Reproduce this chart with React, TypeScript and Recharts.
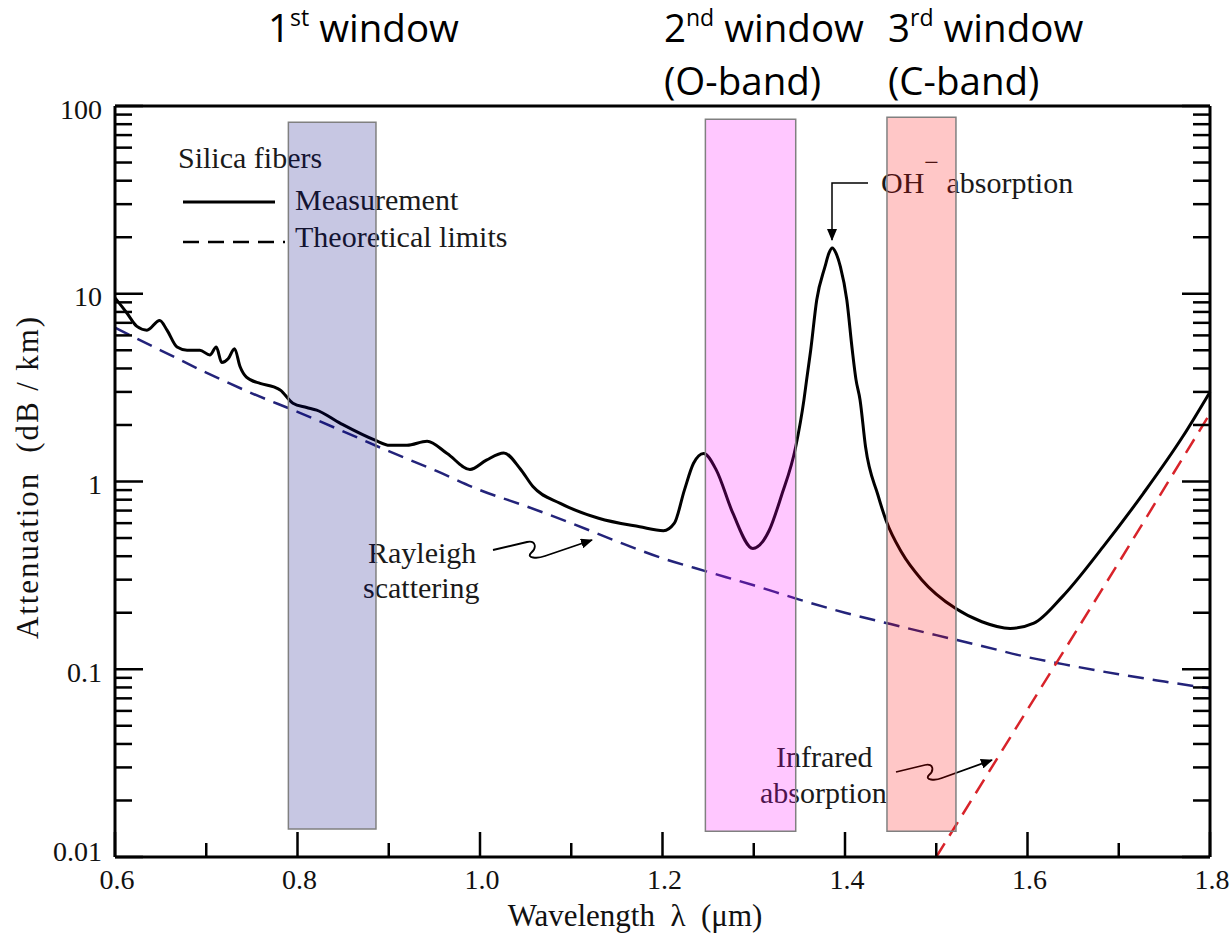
import React from 'react';
import { LineChart, Line, XAxis, YAxis, ReferenceArea } from 'recharts';

const W = 1232;
const H = 938;
// the axes take 1px each, so the plot area is 115..1210 x 106..857
const MARGIN = { top: 105, right: 21, bottom: 80, left: 114 };

const serif = '"Liberation Serif", "Times New Roman", serif';
const sans = '"Open Sans", "Noto Sans", sans-serif';

// measured attenuation of silica fibre: wavelength (um) / dB per km
const measWl = [
  0.6, 0.613, 0.624, 0.635, 0.649, 0.657, 0.668, 0.679, 0.693, 0.704, 0.711, 0.717,
  0.724, 0.731, 0.737, 0.744, 0.759, 0.774, 0.781, 0.795, 0.81, 0.821, 0.847, 0.885,
  0.901, 0.92, 0.942, 0.964, 0.989, 1.007, 1.026, 1.044, 1.058, 1.088, 1.13, 1.175,
  1.201, 1.213, 1.224, 1.234, 1.245, 1.259, 1.277, 1.299, 1.317, 1.33, 1.346, 1.355,
  1.358, 1.3624, 1.369, 1.378, 1.3825, 1.386, 1.39, 1.395, 1.402, 1.408, 1.412, 1.4165,
  1.4225, 1.436, 1.445, 1.462, 1.484, 1.521, 1.55, 1.581, 1.607, 1.638, 1.683, 1.727,
  1.77, 1.8,
];
const measDb = [
  9.5, 7.9, 6.7, 6.4, 7.2, 6.4, 5.2, 5.0, 5.0, 4.72, 5.2, 4.3,
  4.5, 5.1, 4.1, 3.6, 3.33, 3.19, 3.07, 2.61, 2.48, 2.4, 2.04, 1.66,
  1.56, 1.56, 1.64, 1.41, 1.16, 1.3, 1.42, 1.17, 0.94, 0.765, 0.637, 0.574,
  0.547, 0.6, 0.9, 1.25, 1.41, 1.15, 0.68, 0.44, 0.55, 0.83, 1.53, 2.72,
  3.5, 5.0, 9.27, 13.9, 16.5, 17.5, 16.5, 13.9, 9.27, 5.0, 3.5, 2.72,
  1.53, 0.85, 0.62, 0.42, 0.3, 0.211, 0.179, 0.165, 0.176, 0.243, 0.45, 0.865,
  1.73, 3.0,
];

// Rayleigh scattering limit
const rayWl = [
  0.6, 0.65, 0.7, 0.75, 0.8, 0.85, 0.9, 0.95, 1.0, 1.05, 1.1, 1.15, 1.2,
  1.25, 1.3, 1.35, 1.4, 1.45, 1.5, 1.55, 1.6, 1.65, 1.7, 1.75, 1.8,
];
const rayDb = [
  6.6, 5.0, 3.8, 2.95, 2.35, 1.85, 1.45, 1.15, 0.9, 0.74, 0.6, 0.48, 0.39,
  0.33, 0.28, 0.235, 0.2, 0.174, 0.152, 0.133, 0.116, 0.104, 0.094, 0.086, 0.079,
];

// infrared absorption limit
const irWl = [1.5, 1.6, 1.7, 1.8];
const irDb = [0.01, 0.061, 0.37, 2.3];

// transmission windows (um) and their extent on the attenuation axis
const winFrom = [0.79, 1.247, 1.446];
const winTo = [0.886, 1.346, 1.5216];
const winLow = [0.0141, 0.0137, 0.0137];
const winHigh = [82, 85, 87];
const winColors = ['#000080', '#ff00ff', '#ff0000'];

const xMajor = [0.6, 0.8, 1.0, 1.2, 1.4, 1.6, 1.8];
const xMinor = [0.7, 0.9, 1.1, 1.3, 1.5, 1.7];
const yMajor = [0.01, 0.1, 1, 10, 100];
const yMinor = [
  0.02, 0.03, 0.04, 0.05, 0.06, 0.07, 0.08, 0.09,
  0.2, 0.3, 0.4, 0.5, 0.6, 0.7, 0.8, 0.9,
  2, 3, 4, 5, 6, 7, 8, 9,
  20, 30, 40, 50, 60, 70, 80, 90,
];

const measData = measWl.map((x, i) => ({ x, y: measDb[i] }));
const rayData = rayWl.map((x, i) => ({ x, y: rayDb[i] }));
const irData = irWl.map((x, i) => ({ x, y: irDb[i] }));

const xTicks = [...xMajor, ...xMinor].sort((a, b) => a - b);
const yTicks = [...yMajor, ...yMinor].sort((a, b) => a - b);

const isMajorX = (v: number) => xMajor.some((m) => Math.abs(m - v) < 1e-9);
const isMajorY = (v: number) => yMajor.some((m) => Math.abs(m - v) < 1e-12);

const BottomTick = (props: any) => {
  const { x, y, payload } = props;
  const major = isMajorX(payload.value);
  return (
    <g>
      <line x1={x} y1={y} x2={x} y2={y - (major ? 25 : 14)} stroke="#000" strokeWidth={2.5} />
      {major && (
        <text x={x + 2} y={y + 32} textAnchor="middle" fontFamily={serif} fontSize={28} fill="#111">
          {payload.value.toFixed(1)}
        </text>
      )}
    </g>
  );
};

const TopTick = (props: any) => {
  const { x, y } = props;
  return <line x1={x} y1={y} x2={x} y2={y + 25} stroke="#000" strokeWidth={2.5} />;
};

const LeftTick = (props: any) => {
  const { x, y, payload } = props;
  const major = isMajorY(payload.value);
  return (
    <g>
      <line x1={x} y1={y} x2={x + (major ? 28 : 17)} y2={y} stroke="#000" strokeWidth={2.5} />
      {major && (
        <text
          x={x - 13}
          y={y + (payload.value === 0.01 ? -6 : 3)}
          textAnchor="end"
          dominantBaseline="central"
          fontFamily={serif}
          fontSize={28}
          fill="#111"
        >
          {String(payload.value)}
        </text>
      )}
    </g>
  );
};

const RightTick = (props: any) => {
  const { x, y, payload } = props;
  const major = isMajorY(payload.value);
  return <line x1={x} y1={y} x2={x - (major ? 28 : 17)} y2={y} stroke="#000" strokeWidth={2.5} />;
};

// texts that sit under the translucent window bands
function Annotations() {
  const txt = { fontFamily: serif, fontSize: 30, fill: '#1a1a1a' };
  return (
    <svg width={W} height={H} style={{ position: 'absolute', left: 0, top: 0 }}>
      <defs>
        <marker id="head" viewBox="0 0 12 10" refX="11" refY="5" markerWidth="12" markerHeight="10" markerUnits="userSpaceOnUse" orient="auto">
          <path d="M0,0 L12,5 L0,10 z" fill="#000" />
        </marker>
      </defs>

      {/* window titles */}
      <g fontFamily={sans} fontSize={38.5} fill="#000">
        <text x={268} y={42}>
          1<tspan fontSize={23} dy={-16}>st</tspan>
          <tspan dy={16}> window</tspan>
        </text>
        <text x={664} y={42}>
          2<tspan fontSize={23} dy={-16}>nd</tspan>
          <tspan dy={16}> window</tspan>
        </text>
        <text x={664} y={95}>(O-band)</text>
        <text x={888} y={42}>
          3<tspan fontSize={23} dy={-16}>rd</tspan>
          <tspan dy={16}> window</tspan>
        </text>
        <text x={888} y={95}>(C-band)</text>
      </g>

      {/* axis titles */}
      <text x={635} y={926} textAnchor="middle" {...txt} fontSize={31} fill="#111">
        Wavelength {'\u00a0'}λ{'\u00a0'} (μm)
      </text>
      <text
        transform="translate(38,478) rotate(-90)"
        textAnchor="middle"
        {...txt}
        fontSize={31}
        fill="#111"
        textLength={322}
        lengthAdjust="spacing"
      >
        Attenuation {'\u00a0'}(dB / km)
      </text>

      {/* legend */}
      <text x={178} y={168} {...txt}>Silica fibers</text>
      <line x1={183} y1={202} x2={275} y2={202} stroke="#000" strokeWidth={3} />
      <text x={295} y={210} {...txt}>Measurement</text>
      <line x1={183} y1={242} x2={285} y2={242} stroke="#000" strokeWidth={2.5} strokeDasharray="16 9" />
      <text x={295} y={247} {...txt}>Theoretical limits</text>

      {/* OH- absorption */}
      <text x={881} y={193} {...txt}>
        OH<tspan dy={-22} fontSize={26}>−</tspan>
        <tspan dy={22}> absorption</tspan>
      </text>
      <polyline points="868,183 832,183 832,240" fill="none" stroke="#000" strokeWidth={1.5} markerEnd="url(#head)" />

      {/* Rayleigh */}
      <text x={368} y={563} {...txt}>Rayleigh</text>
      <text x={363} y={598} {...txt}>scattering</text>
      <path
        d="M493,550 L527,542 C536,540 537,548 531,553 C526,558 537,559 545,556 L592,540"
        fill="none"
        stroke="#000"
        strokeWidth={1.8}
        markerEnd="url(#head)"
      />

      {/* Infrared */}
      <text x={776} y={767} {...txt}>Infrared</text>
      <text x={760} y={803} {...txt}>absorption</text>
      <path
        d="M896,772 L925,765 C934,763 934,771 929,775 C924,780 935,781 942,778 L992,760"
        fill="none"
        stroke="#000"
        strokeWidth={1.8}
        markerEnd="url(#head)"
      />
    </svg>
  );
}

const axisLine = { stroke: '#000', strokeWidth: 3 };

export default function App() {
  return (
    <div style={{ position: 'absolute', left: 0, top: 0, width: W, height: H, background: '#fff' }}>
      <Annotations />
      <div style={{ position: 'absolute', left: 0, top: 0 }}>
        <LineChart width={W} height={H} margin={MARGIN}>
          <XAxis
            dataKey="x"
            type="number"
            domain={[0.6, 1.8]}
            ticks={xTicks}
            interval={0}
            height={1}
            tickSize={0}
            tickMargin={0}
            tickLine={false}
            axisLine={axisLine}
            tick={<BottomTick />}
          />
          <XAxis
            xAxisId="top"
            orientation="top"
            type="number"
            domain={[0.6, 1.8]}
            ticks={xTicks}
            interval={0}
            height={1}
            tickSize={0}
            tickMargin={0}
            tickLine={false}
            axisLine={axisLine}
            tick={<TopTick />}
          />
          <YAxis
            type="number"
            scale="log"
            domain={[0.01, 100]}
            allowDataOverflow
            ticks={yTicks}
            interval={0}
            width={1}
            tickSize={0}
            tickMargin={0}
            tickLine={false}
            axisLine={axisLine}
            tick={<LeftTick />}
          />
          <YAxis
            yAxisId="right"
            orientation="right"
            type="number"
            scale="log"
            domain={[0.01, 100]}
            allowDataOverflow
            ticks={yTicks}
            interval={0}
            width={1}
            tickSize={0}
            tickMargin={0}
            tickLine={false}
            axisLine={axisLine}
            tick={<RightTick />}
          />

          <Line
            data={rayData}
            dataKey="y"
            type="monotone"
            stroke="#23237a"
            strokeWidth={2.5}
            strokeDasharray="16 9"
            dot={false}
            activeDot={false}
            isAnimationActive={false}
          />
          <Line
            data={irData}
            dataKey="y"
            type="linear"
            stroke="#d8232a"
            strokeWidth={2.5}
            strokeDasharray="16 9"
            dot={false}
            activeDot={false}
            isAnimationActive={false}
          />
          <Line
            data={measData}
            dataKey="y"
            type="monotone"
            stroke="#000"
            strokeWidth={3}
            dot={false}
            activeDot={false}
            isAnimationActive={false}
          />

          {winFrom.map((from, i) => (
            <ReferenceArea
              key={i}
              x1={from}
              x2={winTo[i]}
              y1={winLow[i]}
              y2={winHigh[i]}
              fill={winColors[i]}
              fillOpacity={0.22}
              stroke="#808080"
              strokeWidth={1.5}
              zIndex={1000}
            />
          ))}
        </LineChart>
      </div>
    </div>
  );
}
